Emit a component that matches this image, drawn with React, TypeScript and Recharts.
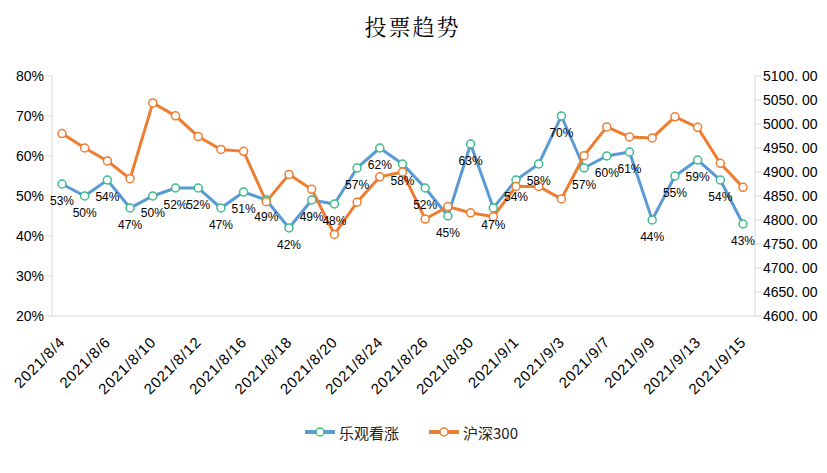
import React from "react";
import {
  LineChart,
  Line,
  XAxis,
  YAxis,
  LabelList,
  Legend
} from "recharts";

// trading days
const dates = [
  "2021/8/4", "2021/8/5", "2021/8/6", "2021/8/9", "2021/8/10", "2021/8/11",
  "2021/8/12", "2021/8/13", "2021/8/16", "2021/8/17", "2021/8/18", "2021/8/19",
  "2021/8/20", "2021/8/23", "2021/8/24", "2021/8/25", "2021/8/26", "2021/8/27",
  "2021/8/30", "2021/8/31", "2021/9/1", "2021/9/2", "2021/9/3", "2021/9/6",
  "2021/9/7", "2021/9/8", "2021/9/9", "2021/9/10", "2021/9/13", "2021/9/14",
  "2021/9/15"
];

// 乐观看涨 (%)
const bullish = [
  53, 50, 54, 47, 50, 52, 52, 47, 51, 49, 42, 49, 48, 57, 62, 58,
  52, 45, 63, 47, 54, 58, 70, 57, 60, 61, 44, 55, 59, 54, 43
];

// 沪深300
const hs300 = [
  4980, 4950, 4923, 4886, 5044, 5017, 4974, 4947, 4943, 4838, 4895, 4864,
  4770, 4837, 4890, 4900, 4802, 4828, 4815, 4807, 4870, 4870, 4844, 4934,
  4994, 4973, 4971, 5015, 4993, 4918, 4868
];

const leftTicks = [20, 30, 40, 50, 60, 70, 80];
const rightTicks = [4600, 4650, 4700, 4750, 4800, 4850, 4900, 4950, 5000, 5050, 5100];

const data = dates.map((d, i) => ({ date: d, bullish: bullish[i], hs300: hs300[i] }));

const BLUE = "#5b9bd5";
const GREEN = "#3dbb8a";
const ORANGE = "#ed7d31";
const AXIS = "#d9d9d9";
const FONT = "'Liberation Sans', Arial, sans-serif";
const CJK = "'Noto Sans CJK SC', sans-serif";

const DateTick = (props: any) => {
  const { x, y, payload } = props;
  return (
    <g transform={`translate(${x - 3},${y + 12})`}>
      <text
        x={0}
        y={0}
        dy={10}
        textAnchor="end"
        transform="rotate(-45)"
        fontSize={15}
        letterSpacing={0.8}
        fontFamily={FONT}
        fill="#000"
      >
        {payload.value}
      </text>
    </g>
  );
};

const LegendContent = () => {
  const items = [
    { name: "乐观看涨", line: BLUE, dot: GREEN },
    { name: "沪深300", line: ORANGE, dot: ORANGE }
  ];
  return (
    <div style={{ display: "flex", justifyContent: "center", gap: 30, height: 24, alignItems: "center" }}>
      {items.map((it) => (
        <div key={it.name} style={{ display: "flex", alignItems: "center" }}>
          <svg width={30} height={12}>
            <line x1={1} y1={6} x2={29} y2={6} stroke={it.line} strokeWidth={4} strokeLinecap="round" />
            <circle cx={15} cy={6} r={4} fill="#fff" stroke={it.dot} strokeWidth={1.5} />
          </svg>
          <span style={{ marginLeft: 4, fontSize: 15, fontFamily: CJK, color: "#222" }}>{it.name}</span>
        </div>
      ))}
    </div>
  );
};

export default function App() {
  return (
    <div style={{ position: "absolute", left: 0, top: 0, width: 827, height: 473, background: "#fff" }}>
      <div
        style={{
          position: "absolute",
          top: 10,
          left: 0,
          width: 825,
          textAlign: "center",
          fontFamily: "'Noto Serif CJK SC', 'Noto Sans CJK SC', serif",
          fontSize: 22,
          color: "#000",
          letterSpacing: 2
        }}
      >
        投票趋势
      </div>
      <LineChart
        width={827}
        height={473}
        data={data}
        margin={{ top: 76, right: 12, left: 8, bottom: 29 }}
      >
        <XAxis
          dataKey="date"
          interval={1}
          tick={<DateTick />}
          tickLine={false}
          axisLine={{ stroke: AXIS }}
          padding={{ left: 10, right: 12 }}
          height={104}
        />
        <YAxis
          yAxisId="left"
          domain={[20, 80]}
          ticks={leftTicks}
          tickFormatter={(v) => `${v}%`}
          width={44}
          axisLine={{ stroke: AXIS }}
          tickLine={{ stroke: AXIS }}
          tickSize={6}
          tick={{ fontSize: 14, fontFamily: FONT, fill: "#000" }}
        />
        <YAxis
          yAxisId="right"
          orientation="right"
          domain={[4600, 5100]}
          ticks={rightTicks}
          tickFormatter={(v) => v.toFixed(2).replace(".", ". ")}
          width={60}
          axisLine={{ stroke: AXIS }}
          tickLine={{ stroke: AXIS }}
          tickSize={6}
          tick={{ fontSize: 14, fontFamily: FONT, fill: "#000", textAnchor: "start" }}
        />
        <Legend verticalAlign="bottom" content={<LegendContent />} wrapperStyle={{ height: 24 }} />
        <Line
          yAxisId="left"
          dataKey="bullish"
          name="乐观看涨"
          stroke={BLUE}
          strokeWidth={3}
          dot={{ r: 4, fill: "#fff", stroke: GREEN, strokeWidth: 1.5 }}
          activeDot={false}
          isAnimationActive={false}
        >
          <LabelList
            dataKey="bullish"
            position="bottom"
            offset={12}
            formatter={(v: any) => `${v}%`}
            style={{ fontSize: 12, fontFamily: FONT, fill: "#000" }}
          />
        </Line>
        <Line
          yAxisId="right"
          dataKey="hs300"
          name="沪深300"
          stroke={ORANGE}
          strokeWidth={3}
          dot={{ r: 4, fill: "#fff", stroke: ORANGE, strokeWidth: 1.5 }}
          activeDot={false}
          isAnimationActive={false}
        />
      </LineChart>
    </div>
  );
}
